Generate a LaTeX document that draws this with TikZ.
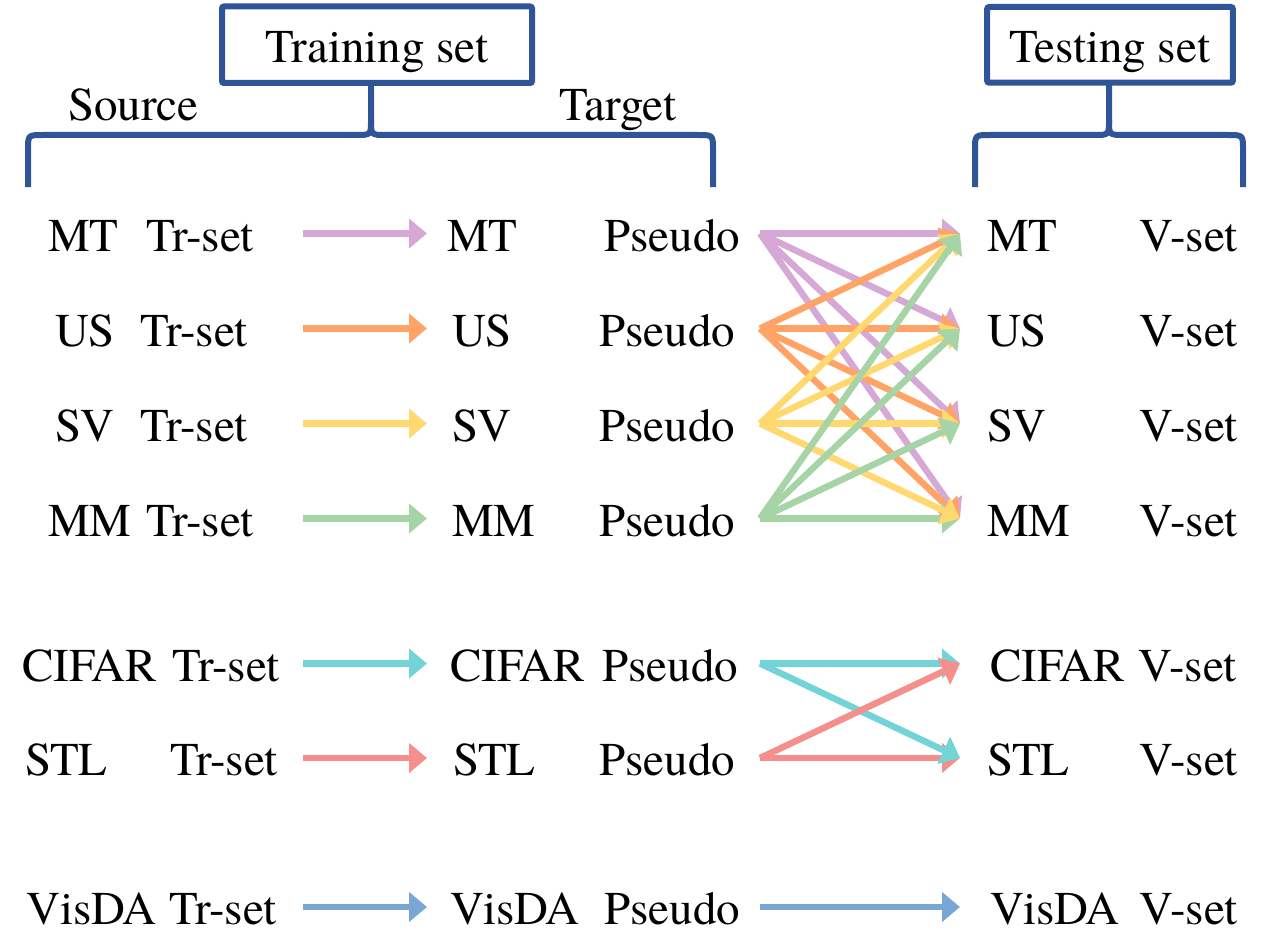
\documentclass[tikz,border=0pt]{standalone}
\usepackage{fontspec}
\IfFontExistsTF{TeX Gyre Termes}
  {\setmainfont{TeX Gyre Termes}}
  {\setmainfont{Liberation Serif}}
\usetikzlibrary{arrows.meta}

\definecolor{frame}{RGB}{47,85,151}
\definecolor{cMT}{RGB}{214,168,214}
\definecolor{cUS}{RGB}{255,163,102}
\definecolor{cSV}{RGB}{255,217,112}
\definecolor{cMM}{RGB}{166,212,166}
\definecolor{cCI}{RGB}{115,212,216}
\definecolor{cST}{RGB}{245,143,140}
\definecolor{cVD}{RGB}{122,166,214}

\begin{document}
\begin{tikzpicture}[x=1pt,y=-1pt,
  lbl/.style={inner sep=0pt, outer sep=0pt, font=\rmfamily\fontsize{47}{56}\selectfont},
  lw/.style={lbl, anchor=base west},
  le/.style={lbl, anchor=base east},
  header/.style={lbl, draw=frame, line width=6pt, rounded corners=2pt,
                 text height=35pt, text depth=0pt},
  brace/.style={draw=frame, line width=6pt, line join=round, line cap=butt},
  flow/.style={line width=6.5pt, -{Triangle[length=18pt,width=29pt]}},
]
\useasboundingbox (0,0) rectangle (1269,931);

% ---- headers with their braces ----
\node[header, minimum width=310pt, minimum height=76.5pt] (train) at (377,44.75) {Training set};
\node[header, minimum width=245.7pt, minimum height=75.7pt] (test) at (1110,44.85) {Testing set};

\draw[brace] ([xshift=-6pt]train.south) -- (371,120)
  .. controls (371,135) .. (356,135) -- (43,135)
  .. controls (28,135) .. (28,150) -- (28,187);
\draw[brace] (371,120)
  .. controls (371,135) .. (386,135) -- (698,135)
  .. controls (713,135) .. (713,150) -- (713,187);

\draw[brace] (test.south -| 1109,0) -- (1109,120)
  .. controls (1109,135) .. (1094,135) -- (990,135)
  .. controls (975,135) .. (975,150) -- (975,187);
\draw[brace] (1109,120)
  .. controls (1109,135) .. (1124,135) -- (1228,135)
  .. controls (1243,135) .. (1243,150) -- (1243,187);

\node[lw] (src) at (68,121) {Source};
\node[lw] (tgt) at (559,121) {Target};

% ---- source training sets ----
\node[lw] (s1a) at (48,251) {MT};     \node[le] (s1b) at (254,251) {Tr-set};
\node[lw] (s2a) at (55,346) {US};     \node[le] (s2b) at (248,346) {Tr-set};
\node[lw] (s3a) at (55,441) {SV};     \node[le] (s3b) at (248,441) {Tr-set};
\node[lw] (s4a) at (48,536) {MM};     \node[le] (s4b) at (254,536) {Tr-set};
\node[lw] (s5a) at (22,681) {CIFAR};  \node[le] (s5b) at (280,681) {Tr-set};
\node[lw] (s6a) at (25,775.5) {STL};  \node[le] (s6b) at (278,775.5) {Tr-set};
\node[lw] (s7a) at (27,924) {VisDA};  \node[le] (s7b) at (277,924) {Tr-set};

% ---- target pseudo-labelled sets ----
\node[lw] (t1a) at (447,251) {MT};     \node[le] (t1b) at (740,251) {Pseudo};
\node[lw] (t2a) at (452,346) {US};     \node[le] (t2b) at (735,346) {Pseudo};
\node[lw] (t3a) at (452,441) {SV};     \node[le] (t3b) at (735,441) {Pseudo};
\node[lw] (t4a) at (452,536) {MM};     \node[le] (t4b) at (735,536) {Pseudo};
\node[lw] (t5a) at (450,681) {CIFAR};  \node[le] (t5b) at (738,681) {Pseudo};
\node[lw] (t6a) at (453,775.5) {STL};  \node[le] (t6b) at (735,775.5) {Pseudo};
\node[lw] (t7a) at (450,924) {VisDA};  \node[le] (t7b) at (740,924) {Pseudo};

% ---- testing (validation) sets ----
\node[lw] (v1a) at (987,251) {MT};     \node[le] (v1b) at (1238,251) {V-set};
\node[lw] (v2a) at (987,346) {US};     \node[le] (v2b) at (1238,346) {V-set};
\node[lw] (v3a) at (987,441) {SV};     \node[le] (v3b) at (1238,441) {V-set};
\node[lw] (v4a) at (987,536) {MM};     \node[le] (v4b) at (1238,536) {V-set};
\node[lw] (v5a) at (990,681) {CIFAR};  \node[le] (v5b) at (1237,681) {V-set};
\node[lw] (v6a) at (987,775.5) {STL};  \node[le] (v6b) at (1238,775.5) {V-set};
\node[lw] (v7a) at (990,924) {VisDA};  \node[le] (v7b) at (1238,924) {V-set};

% ---- arrow ports ----
\foreach \r/\y in {1/233.5,2/328.5,3/423.5,4/518.5,5/663.5,6/758,7/907}{
  \coordinate (so\r) at (303,\y);
  \coordinate (ti\r) at (427,\y);
  \coordinate (to\r) at (760,\y);
  \coordinate (vi\r) at (960,\y);
}

% ---- source -> pseudo ----
\draw[flow, cMT] (so1) -- (ti1);
\draw[flow, cUS] (so2) -- (ti2);
\draw[flow, cSV] (so3) -- (ti3);
\draw[flow, cMM] (so4) -- (ti4);
\draw[flow, cCI] (so5) -- (ti5);
\draw[flow, cST] (so6) -- (ti6);
\draw[flow, cVD] (so7) -- (ti7);

% ---- pseudo -> every testing set (digits) ----
\foreach \j in {1,2,3,4}{\draw[flow, cMT] (to1) -- (vi\j);}
\foreach \j in {1,2,3,4}{\draw[flow, cUS] (to2) -- (vi\j);}
\draw[flow, cMM] (to4) -- (vi4);
\foreach \j in {1,2,3,4}{\draw[flow, cSV] (to3) -- (vi\j);}
\foreach \j in {1,2,3}{\draw[flow, cMM] (to4) -- (vi\j);}

% ---- CIFAR / STL ----
\draw[flow, cCI] (to5) -- (vi5);
\draw[flow, cST] (to6) -- (vi6);
\draw[flow, cCI] (to5) -- (vi6);
\draw[flow, cST] (to6) -- (vi5);

% ---- VisDA ----
\draw[flow, cVD] (to7) -- (vi7);
\end{tikzpicture}
\end{document}
